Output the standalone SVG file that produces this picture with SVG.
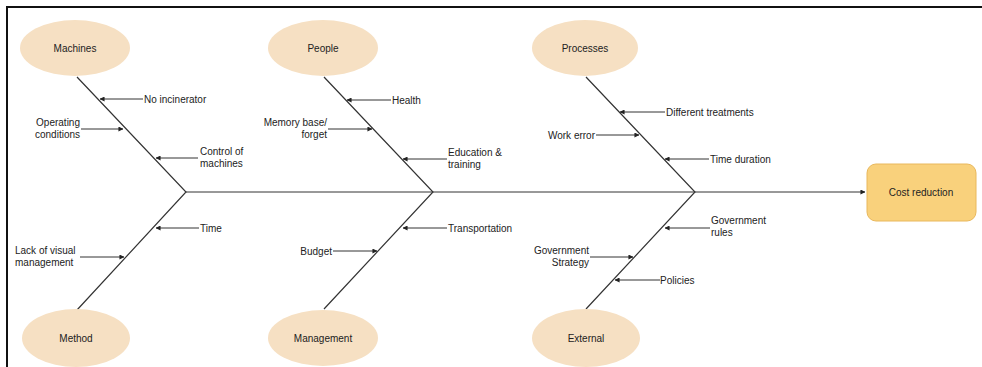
<svg xmlns="http://www.w3.org/2000/svg" width="982" height="367" viewBox="0 0 982 367">
<defs>
<style>
.cat{fill:#f6e0c3;stroke:none}
.t{font-family:"Liberation Sans",Arial,sans-serif;font-size:10px;fill:#222}
.c{text-anchor:middle;dominant-baseline:central}
.r{text-anchor:end}
.bone{stroke:#333;stroke-width:1.2;fill:none}
.sub{stroke:#333;stroke-width:1;fill:none;marker-end:url(#ah)}
</style>
<marker id="ah" viewBox="0 0 6 6" refX="5.5" refY="3" markerWidth="5" markerHeight="5" orient="auto" markerUnits="userSpaceOnUse">
<path d="M0,0 L6,3 L0,6 Z" fill="#222"/>
</marker>
</defs>
<rect width="982" height="367" fill="#fff"/>
<path d="M7,367 V7 H982" stroke="#111" stroke-width="2" fill="none"/>

<g id="connectors">
<path class="sub" d="M186,192 H865"/>
<path class="bone" d="M77,77 L186,192 L77,310"/>
<path class="bone" d="M324,77 L433,192 L324,309"/>
<path class="bone" d="M586,77 L695,192 L586,309"/>
<!-- Machines -->
<path class="sub" d="M143,99 H100"/>
<path class="sub" d="M81,129 H123"/>
<path class="sub" d="M198,158 H156"/>
<!-- Method -->
<path class="sub" d="M199,228 H156"/>
<path class="sub" d="M80,257 H124"/>
<!-- People -->
<path class="sub" d="M391,100 H347"/>
<path class="sub" d="M328,129 H372"/>
<path class="sub" d="M447,159 H403"/>
<!-- Management -->
<path class="sub" d="M447,228 H403"/>
<path class="sub" d="M333,251 H377"/>
<!-- Processes -->
<path class="sub" d="M665,112 H620"/>
<path class="sub" d="M596,135 H639"/>
<path class="sub" d="M709,159 H665"/>
<!-- External -->
<path class="sub" d="M710,228 H665"/>
<path class="sub" d="M590,257 H633"/>
<path class="sub" d="M660,280 H615"/>
</g>

<g id="machines"><ellipse class="cat" cx="75" cy="48" rx="55" ry="28"/><text class="t c" x="75" y="48">Machines</text></g>
<g id="method"><ellipse class="cat" cx="76" cy="338" rx="54" ry="29"/><text class="t c" x="76" y="338">Method</text></g>
<g id="people"><ellipse class="cat" cx="323" cy="48" rx="55" ry="28"/><text class="t c" x="323" y="48">People</text></g>
<g id="management"><ellipse class="cat" cx="323" cy="338" rx="55" ry="28"/><text class="t c" x="323" y="338">Management</text></g>
<g id="processes"><ellipse class="cat" cx="585" cy="48" rx="53" ry="28"/><text class="t c" x="585" y="48">Processes</text></g>
<g id="external"><ellipse class="cat" cx="586" cy="338" rx="54" ry="29"/><text class="t c" x="586" y="338">External</text></g>

<g id="cost-reduction"><rect x="867" y="164" width="109" height="57" rx="9" fill="#f9d17c" stroke="#e9b85c" stroke-width="1"/><text class="t c" x="921" y="192.5">Cost reduction</text></g>

<g id="labels">
<text class="t" x="144" y="102.5">No incinerator</text>
<text class="t r" x="80" y="126">Operating</text>
<text class="t r" x="80" y="138">conditions</text>
<text class="t" x="200" y="155">Control of</text>
<text class="t" x="200" y="167">machines</text>
<text class="t" x="200" y="231.5">Time</text>
<text class="t" x="15" y="254">Lack of visual</text>
<text class="t" x="15" y="266">management</text>
<text class="t" x="392" y="103.5">Health</text>
<text class="t r" x="327" y="126">Memory base/</text>
<text class="t r" x="327" y="138">forget</text>
<text class="t" x="448" y="156">Education &amp;</text>
<text class="t" x="448" y="168">training</text>
<text class="t" x="448" y="231.5">Transportation</text>
<text class="t r" x="332" y="254.5">Budget</text>
<text class="t" x="666" y="115.5">Different treatments</text>
<text class="t r" x="595" y="138.5">Work error</text>
<text class="t" x="710" y="162.5">Time duration</text>
<text class="t" x="711" y="224">Government</text>
<text class="t" x="711" y="236">rules</text>
<text class="t r" x="589" y="254">Government</text>
<text class="t r" x="589" y="266">Strategy</text>
<text class="t" x="660" y="283.5">Policies</text>
</g>
</svg>
